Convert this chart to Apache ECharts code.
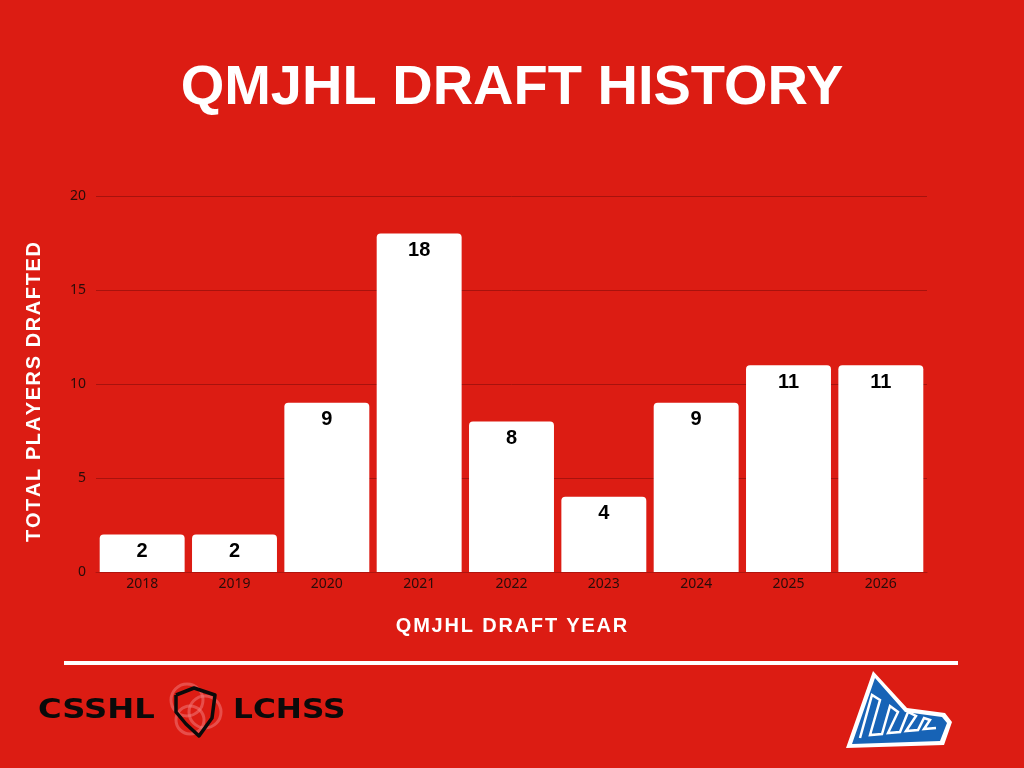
<!DOCTYPE html>
<html><head><meta charset="utf-8">
<script src="https://cdn.jsdelivr.net/npm/echarts@6/dist/echarts.min.js"></script>
<style>html,body{margin:0;padding:0;background:#DC1C13;}#c{width:1024px;height:768px;}</style>
</head><body><div id="c"></div>
<script>
const years = ['2018','2019','2020','2021','2022','2023','2024','2025','2026'];
const drafted = [2, 2, 9, 18, 8, 4, 9, 11, 11];
const yTicks = [0, 5, 10, 15, 20];
const xName = 'QMJHL DRAFT YEAR';
const yName = 'TOTAL PLAYERS DRAFTED';

// letter-spaced label via rich tokens (same characters, extra tracking)
function spaced(str) {
  return str.split('').map((ch, i) => (i < str.length - 1 ? '{s|' : '{e|') + ch + '}').join('');
}
function richSpaced(sp) {
  return {
    s: {color: '#fff', fontFamily: 'Liberation Sans', fontWeight: 'bold', fontSize: 20, padding: [0, sp, 0, 0]},
    e: {color: '#fff', fontFamily: 'Liberation Sans', fontWeight: 'bold', fontSize: 20}
  };
}

const chart = echarts.init(document.getElementById('c'));
chart.setOption({
  backgroundColor: '#DC1C13',
  title: {
    text: 'QMJHL DRAFT HISTORY', left: 'center', top: 56,
    textStyle: {color: '#fff', fontFamily: 'Liberation Sans', fontWeight: 'bold', fontSize: 56}
  },
  grid: {left: 96, right: 97, top: 196, bottom: 196},
  xAxis: {
    type: 'category', data: years,
    name: spaced(xName), nameLocation: 'middle', nameGap: 44,
    nameTextStyle: {color: '#fff', fontFamily: 'Liberation Sans', fontWeight: 'bold', fontSize: 20, rich: richSpaced(1.8)},
    axisLine: {show: true, lineStyle: {color: '#B0140E', width: 1}},
    axisTick: {show: false},
    axisLabel: {color: '#2a0c0a', fontFamily: 'Noto Sans', fontSize: 14, margin: 5}
  },
  yAxis: {
    type: 'value', min: yTicks[0], max: yTicks[yTicks.length-1], interval: 5,
    name: spaced(yName), nameLocation: 'middle', nameGap: 52, nameRotate: 90,
    nameTextStyle: {color: '#fff', fontFamily: 'Liberation Sans', fontWeight: 'bold', fontSize: 20,
      rich: richSpaced(1.6), padding: [0, 16, 0, 0]},
    axisLine: {show: false}, axisTick: {show: false},
    axisLabel: {color: '#2a0c0a', fontFamily: 'Noto Sans', fontSize: 14, margin: 10},
    splitLine: {lineStyle: {color: '#A8120D', width: 1}}
  },
  series: [{
    type: 'bar', data: drafted, barCategoryGap: '8%',
    itemStyle: {color: '#ffffff', borderRadius: [4,4,0,0]},
    label: {show: true, position: 'insideTop', distance: 7, color: '#000',
      fontFamily: 'Liberation Sans', fontWeight: 'bold', fontSize: 20},
    animation: false
  }],
  graphic: [
    {type: 'rect', shape: {x: 64, y: 661, width: 894, height: 4}, style: {fill: '#fff'}},
    {type: 'text', x: 38, y: 711, scaleX: 1.24, style: {text: 'CSSHL', fill: '#0a0a0a',
      font: 'bold 26px "DejaVu Sans"', textVerticalAlign: 'middle'}},
    {type: 'text', x: 233, y: 711, scaleX: 1.2, style: {text: 'LCHSS', fill: '#0a0a0a',
      font: 'bold 26px "DejaVu Sans"', textVerticalAlign: 'middle'}},
    {type: 'circle', shape: {cx: 187, cy: 700, r: 16}, style: {fill: 'none', stroke: 'rgba(240,120,120,0.55)', lineWidth: 3}},
    {type: 'circle', shape: {cx: 205, cy: 712, r: 16}, style: {fill: 'none', stroke: 'rgba(240,120,120,0.55)', lineWidth: 3}},
    {type: 'circle', shape: {cx: 190, cy: 720, r: 14}, style: {fill: 'none', stroke: 'rgba(240,120,120,0.55)', lineWidth: 3}},
    {type: 'polyline', shape: {points: [[176,695],[194,688],[215,695],[212,718],[199,736],[186,724],[176,712],[176,695]]},
      style: {fill: 'none', stroke: '#0a0a0a', lineWidth: 3.5, lineJoin: 'round'}},
    {type: 'polygon', shape: {points: [[873,671],[907,708],[945,713],[952,722],[944,745],[846,748]]},
      style: {fill: '#fff'}},
    {type: 'polygon', shape: {points: [[875,678],[905,712],[942,717],[947,723],[940,741],[852,744]]},
      style: {fill: '#1763B6'}},
    {type: 'polyline', shape: {points: [[860,738],[872,695],[880,700],[870,735],[882,734],[890,706],[898,712],[888,733],[900,732],[908,712],[916,716],[906,731],[918,730],[924,718],[930,720],[924,729],[936,728]]},
      style: {fill: 'none', stroke: '#fff', lineWidth: 2.5}}
  ]
});
</script></body></html>
